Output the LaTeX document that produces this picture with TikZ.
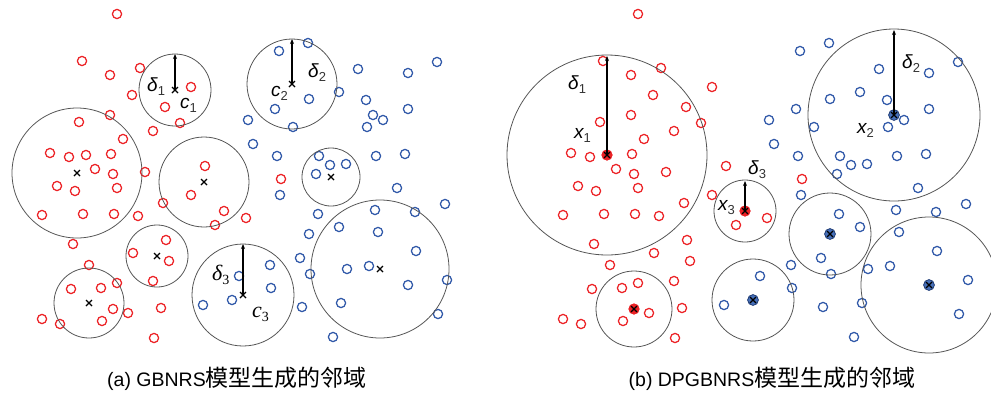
\documentclass[tikz,border=0pt]{standalone}
\usepackage{fontspec}
\setmainfont{Liberation Sans}
\newfontfamily\cjk{Noto Sans CJK SC}
\newfontfamily\serifrm{Liberation Serif}
\usetikzlibrary{arrows.meta}

\definecolor{ptred}{RGB}{236,34,38}
\definecolor{ptblue}{RGB}{48,88,168}
\definecolor{fillblue}{RGB}{70,112,186}
\definecolor{ballgray}{RGB}{85,85,85}

% sample points (shared by both panels)
\def\redpts{117/14,82/61,110/75,140/68,132/95,191/87,165/107,180/123,110/115,79/122,
153/131,123/139,50/153,69/157,86/155,111/154,95/169,113/174,145/172,205/166,
57/186,75/191,117/188,42/215,83/214,114/214,138/216,163/203,191/195,224/211,
215/225,246/218,73/244,166/240,133/253,169/261,153/281,89/265,71/289,101/288,
117/283,113/309,128/313,102/321,60/324,42/319,161/308,154/338,281/179}
\def\bluepts{279/51,308/43,358/69,408/73,437/62,339/92,309/99,275/109,366/100,373/115,
383/120,408/109,367/127,293/127,248/120,253/144,277/156,319/156,330/165,346/164,
376/156,405/154,316/174,280/195,397/188,445/204,318/214,309/234,339/227,375/210,
415/212,378/232,416/251,300/258,270/265,310/274,347/269,369/266,408/285,447/280,
271/288,302/307,341/303,438/314,333/337,239/276,232/300,203/305}

\newcommand{\sansl}[2]{{\fontsize{19}{19}\selectfont\itshape #1}\raisebox{-0.9ex}{\fontsize{13}{13}\selectfont\color{black!80}#2}}
\newcommand{\serifl}[2]{{\serifrm\fontsize{22}{22}\selectfont\itshape #1}\raisebox{-0.9ex}{\serifrm\fontsize{14}{14}\selectfont #2}}

\tikzset{
  redpt/.style={draw=ptred, line width=1.25pt},
  bluept/.style={draw=ptblue, line width=1.25pt},
  ball/.style={draw=ballgray, line width=0.8pt},
  radius arrow/.style={draw=black, line width=1.7pt, -{Stealth[length=5pt,width=4pt]}},
  cross/.style={draw=black, line width=1.3pt},
  lbl/.style={inner sep=0pt, anchor=base west},
  caption/.style={inner sep=0pt, anchor=base}
}

\newcommand{\xmark}[2]{\draw[cross] (#1-3,#2-3) -- (#1+3,#2+3) (#1-3,#2+3) -- (#1+3,#2-3);}

\begin{document}
\begin{tikzpicture}[x=1pt,y=-1pt]
\useasboundingbox (0,0) rectangle (991,392);

% ---------------- panel (a) ----------------
\begin{scope}
  \foreach \px/\py in \redpts {\draw[redpt] (\px,\py) circle (4.6);}
  \foreach \px/\py in \bluepts {\draw[bluept] (\px,\py) circle (4.6);}

  \coordinate (a1) at (175,90);  \coordinate (a1t) at (175,54);
  \coordinate (a2) at (292,84);  \coordinate (a2t) at (292,39);
  \coordinate (a3) at (243,295); \coordinate (a3t) at (243,244);

  \draw[ball] (a1) circle (36);
  \draw[ball] (a2) circle (45);
  \draw[ball] (a3) circle (51);
  \draw[ball] (77,173) circle (65);
  \draw[ball] (204,182) circle (45);
  \draw[ball] (331,177) circle (29);
  \draw[ball] (157,256) circle (31);
  \draw[ball] (89,303) circle (35);
  \draw[ball] (380,269) circle (69);

  \xmark{175}{90} \xmark{292}{84} \xmark{243}{295}
  \xmark{77}{173} \xmark{204}{182} \xmark{331}{177}
  \xmark{157}{256} \xmark{89}{303} \xmark{380}{269}

  \draw[radius arrow] (a1) -- (a1t);
  \draw[radius arrow] (a2) -- (a2t);
  \draw[radius arrow] (a3) -- (a3t);

  \node[lbl] (da1) at (147,91) {\sansl{δ}{1}};
  \node[lbl] (ca1) at (180,108) {\sansl{c}{1}};
  \node[lbl] (ca2) at (271,96) {\sansl{c}{2}};
  \node[lbl] (da2) at (308,77) {\sansl{δ}{2}};
  \node[lbl] (da3) at (212,280) {\serifl{δ}{3}};
  \node[lbl] (ca3) at (252,317) {\serifl{c}{3}};

  \node[caption] (capa) at (237,386)
    {\fontsize{19.5}{20}\selectfont (a) GBNRS{\cjk\fontsize{23}{24}\selectfont 模型生成的邻域}};
\end{scope}

% ---------------- panel (b) ----------------
\begin{scope}[shift={(521,0)}]
  \foreach \px/\py in \redpts {\draw[redpt] (\px,\py) circle (4.6);}
  \foreach \px/\py in \bluepts {\draw[bluept] (\px,\py) circle (4.6);}

  \coordinate (b1) at (86,155);  \coordinate (b1t) at (86,56);
  \coordinate (b2) at (373,115); \coordinate (b2t) at (373,30);
  \coordinate (b3) at (224,211); \coordinate (b3t) at (224,181);

  \draw[ball] (b1) circle (100);
  \draw[ball] (b2) circle (86);
  \draw[ball] (b3) circle (31);
  \draw[ball] (113,309) circle (38);
  \draw[ball] (309,234) circle (41);
  \draw[ball] (232,300) circle (41);
  \draw[ball] (408,285) circle (68);

  % selected centres: filled sample with a cross
  \foreach \px/\py in {86/155,224/211,113/309} {
    \fill[ptred] (\px,\py) circle (5.6);
    \xmark{\px}{\py}
  }
  \foreach \px/\py in {373/115,309/234,232/300,408/285} {
    \draw[fill=fillblue, draw=ptblue!70!black, line width=0.8pt] (\px,\py) circle (5.4);
    \xmark{\px}{\py}
  }

  \draw[radius arrow] (b1) -- (b1t);
  \draw[radius arrow] (b2) -- (b2t);
  \draw[radius arrow] (b3) -- (b3t);
\end{scope}

\node[lbl] (db1) at (568,89) {\sansl{δ}{1}};
\node[lbl] (xb1) at (574,138) {\sansl{x}{1}};
\node[lbl] (db2) at (902,68) {\sansl{δ}{2}};
\node[lbl] (xb2) at (857,133) {\sansl{x}{2}};
\node[lbl] (db3) at (748,174) {\sansl{δ}{3}};
\node[lbl] (xb3) at (718,210) {\sansl{x}{3}};

\node[caption] (capb) at (772,386)
  {\fontsize{19.5}{20}\selectfont (b) DPGBNRS{\cjk\fontsize{23}{24}\selectfont 模型生成的邻域}};
\end{tikzpicture}
\end{document}
